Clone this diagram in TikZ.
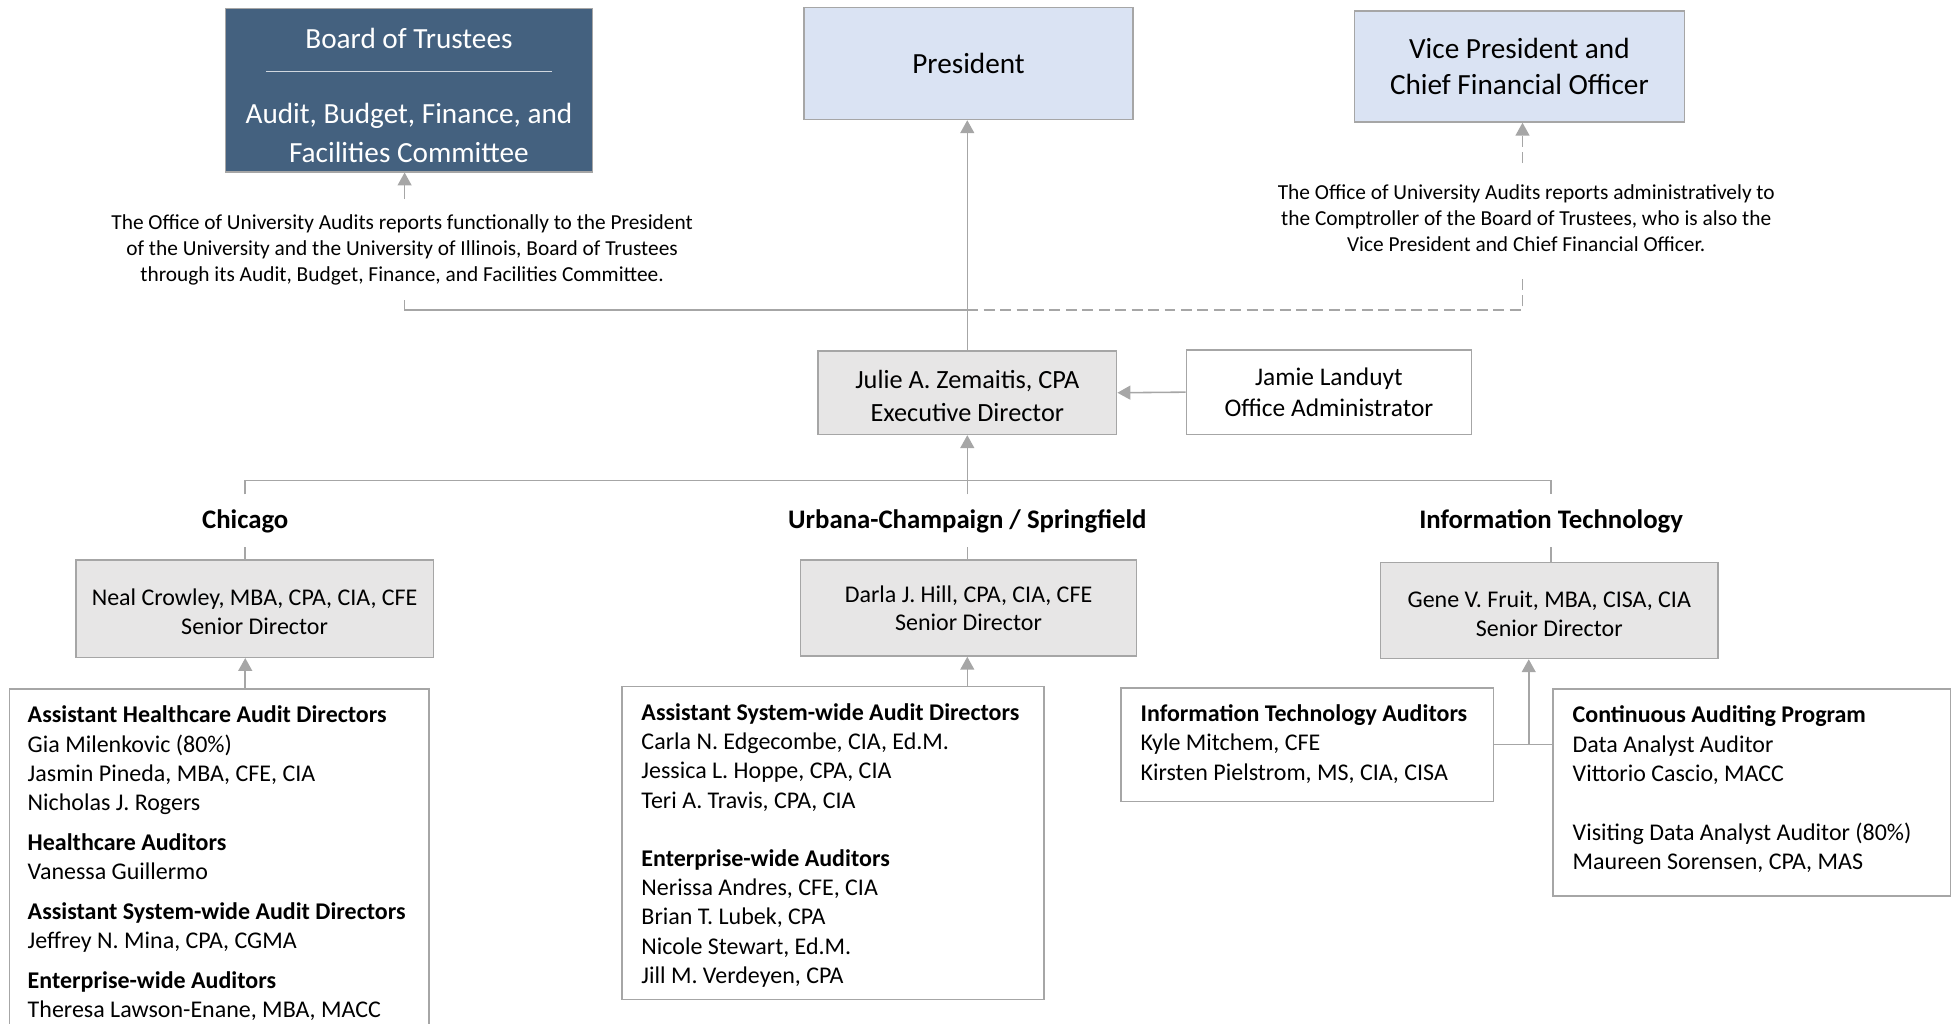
\documentclass[tikz,border=0pt]{standalone}
\usepackage{fontspec}
\setmainfont{Carlito}
\usepackage{tikz}
\usetikzlibrary{arrows.meta, positioning}
\usepackage{xcolor}
\definecolor{botblue}{HTML}{44617F}
\definecolor{presblue}{HTML}{DAE3F3}
\definecolor{boxgray}{HTML}{E7E6E6}
\definecolor{linegray}{HTML}{A6A6A6}

\begin{document}
\begin{tikzpicture}[
x=0.025cm, y=-0.025cm,
box/.style={draw=linegray, line width=0.8pt, rectangle,
align=center, inner sep=0pt},
topbox/.style={box, fill=presblue, font=\fontsize{16.7}{20.6}\selectfont},
dirbox/.style={box, fill=boxgray, font=\fontsize{13.7}{16.4}\selectfont},
listframe/.style={draw=linegray, line width=0.8pt, fill=white,
anchor=north west, inner sep=0pt},
listtext/.style={anchor=north west, align=left, inner sep=0pt,
font=\fontsize{13.7}{16.7}\selectfont},
region/.style={font=\bfseries\fontsize{15.3}{18}\selectfont,
minimum height=1.05cm, inner sep=0pt},
note/.style={align=center, font=\fontsize{12.2}{14.9}\selectfont},
conn/.style={draw=linegray, line width=0.9pt},
arrow/.style={conn, -{Triangle[length=0.26cm, width=0.28cm]}}
]
\useasboundingbox (0,0) rectangle (1568,821.8);
\clip (0,0) rectangle (1568,821.8);

% top row
\node[box, fill=botblue, text=white, minimum width=7.375cm, minimum height=3.275cm,
font=\fontsize{16.7}{22}\selectfont] (bot) at (328.5,72.5)
{\rule{0pt}{17.5pt}Board of Trustees\\\textcolor{white!75!botblue}{\rule[9pt]{5.75cm}{0.6pt}}\\[-1.3pt]Audit, Budget, Finance, and\\Facilities Committee};
\node[topbox, minimum width=6.6cm, minimum height=2.25cm] (pres) at (778,51) {President};
\node[topbox, minimum width=6.625cm, minimum height=2.225cm] (vp) at (1220.5,53.5) {Vice President and\\Chief Financial Officer};

\node[note] (note1) at (323,201) {The Office of University Audits reports functionally to the President\\of the University and the University of Illinois, Board of Trustees\\through its Audit, Budget, Finance, and Facilities Committee.};
\node[note] (note2) at (1226,175) {The Office of University Audits reports administratively to\\the Comptroller of the Board of Trustees, who is also the\\Vice President and Chief Financial Officer.};

% office
\node[dirbox, minimum width=6cm, minimum height=1.675cm, font=\fontsize{15}{18.5}\selectfont] (julie) at (777,315.5) {\rule{0pt}{14pt}Julie A. Zemaitis, CPA\\Executive Director};
\node[box, fill=white, minimum width=5.725cm, minimum height=1.7cm, font=\fontsize{14.5}{17.8}\selectfont] (jamie) at (1067.5,315) {Jamie Landuyt\\Office Administrator};

% regions
\node[region] (chilab) at (197,418.5) {Chicago};
\node[region] (ucslab) at (777,418.5) {Urbana-Champaign / Springfield};
\node[region] (itlab) at (1246,418.5) {Information Technology};

\node[dirbox, minimum width=7.175cm, minimum height=1.95cm] (chidir) at (204.5,489) {\rule{0pt}{13pt}Neal Crowley, MBA, CPA, CIA, CFE\\Senior Director};
\node[dirbox, minimum width=6.75cm, minimum height=1.925cm] (ucsdir) at (778,488.5) {Darla J. Hill, CPA, CIA, CFE\\Senior Director};
\node[dirbox, minimum width=6.775cm, minimum height=1.925cm] (itdir) at (1244.5,490.5) {\rule{0pt}{13pt}Gene V. Fruit, MBA, CISA, CIA\\Senior Director};

% staff lists
\node[listframe, minimum width=8.425cm, minimum height=7.5cm] (chilist) at (7,553) {};
\node[listtext] (chistaff) at ([xshift=0.375cm, yshift=-0.345cm]chilist.north west)
{\textbf{Assistant Healthcare Audit Directors}\\Gia Milenkovic (80\%)\\Jasmin Pineda, MBA, CFE, CIA\\Nicholas J. Rogers\\[6pt]
\textbf{Healthcare Auditors}\\Vanessa Guillermo\\[6pt]
\textbf{Assistant System-wide Audit Directors}\\Jeffrey N. Mina, CPA, CGMA\\[6pt]
\textbf{Enterprise-wide Auditors}\\Theresa Lawson-Enane, MBA, MACC};

\node[listframe, minimum width=8.475cm, minimum height=6.275cm] (ucslist) at (499,551) {};
\node[listtext] (ucsstaff) at ([xshift=0.4cm, yshift=-0.345cm]ucslist.north west)
{\textbf{Assistant System-wide Audit Directors}\\Carla N. Edgecombe, CIA, Ed.M.\\Jessica L. Hoppe, CPA, CIA\\Teri A. Travis, CPA, CIA\\[16.7pt]
\textbf{Enterprise-wide Auditors}\\Nerissa Andres, CFE, CIA\\Brian T. Lubek, CPA\\Nicole Stewart, Ed.M.\\Jill M. Verdeyen, CPA};

\node[listframe, minimum width=7.475cm, minimum height=2.275cm] (itaud) at (900,552) {};
\node[listtext] (itstaff) at ([xshift=0.4cm, yshift=-0.345cm]itaud.north west)
{\textbf{Information Technology Auditors}\\Kyle Mitchem, CFE\\Kirsten Pielstrom, MS, CIA, CISA};

\node[listframe, minimum width=7.975cm, minimum height=4.15cm] (capprog) at (1247,553) {};
\node[listtext] (capstaff) at ([xshift=0.4cm, yshift=-0.345cm]capprog.north west)
{\textbf{Continuous Auditing Program}\\Data Analyst Auditor\\Vittorio Cascio, MACC\\[17pt]
Visiting Data Analyst Auditor (80\%)\\Maureen Sorensen, CPA, MAS};

% reporting lines
\coordinate (n1top) at (325,160);
\coordinate (n1bot) at (325,241);
\coordinate (split) at (777,249);
\coordinate (n2bot) at (1223,220);
\coordinate (n2top) at (1223,131);
\coordinate (bus) at (777,386);
\coordinate (itjoin) at (1228,597.5);

\draw[arrow] (n1top) -- (n1top |- bot.south);
\draw[conn] (n1bot) |- (split);
\draw[conn, dash pattern=on 0.22cm off 0.11cm] (split) -| (n2bot);
\draw[arrow, dash pattern=on 0.22cm off 0.11cm] (n2top) -- (n2top |- vp.south);
\draw[arrow] (julie.north) -- (julie.north |- pres.south);
\draw[arrow] (jamie.west) -- (julie.east);

\draw[conn] (chilab.north) |- (bus) -| (itlab.north);
\draw[arrow] (ucslab.north) -- (julie.south);
\draw[conn] (chilab.south) -- (chilab.south |- chidir.north);
\draw[conn] (ucslab.south) -- (ucslab.south |- ucsdir.north);
\draw[conn] (itlab.south) -- (itlab.south |- itdir.north);

\draw[arrow] (chilab.south |- chilist.north) -- (chilab.south |- chidir.south);
\draw[arrow] (ucslab.south |- ucslist.north) -- (ucslab.south |- ucsdir.south);
\draw[conn] (itaud.east) -- (itaud.east -| capprog.west);
\draw[arrow] (itjoin) -- (itjoin |- itdir.south);

\end{tikzpicture}
\end{document}
